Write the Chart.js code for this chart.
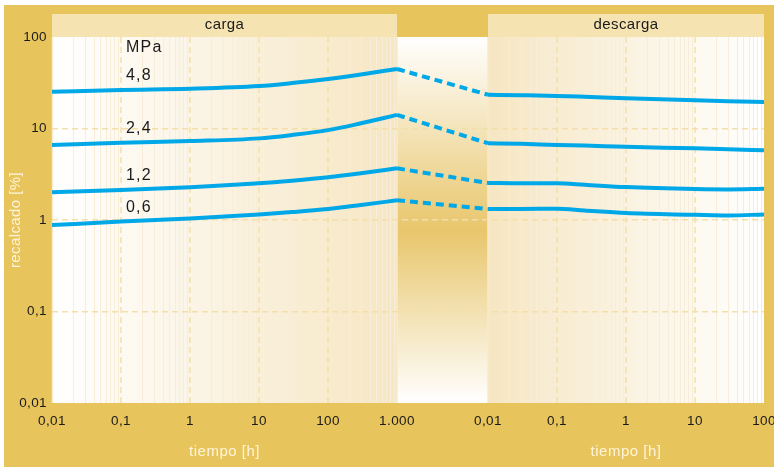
<!DOCTYPE html>
<html lang="es">
<head>
<meta charset="utf-8">
<title>recalcado</title>
<script src="https://cdn.jsdelivr.net/npm/chart.js@4.4.1/dist/chart.umd.min.js"></script>
<style>
  html,body{margin:0;padding:0;background:#fff;}
  canvas{display:block;}
</style>
</head>
<body>
<canvas id="c" width="774" height="467"></canvas>
<script>
/* ---- datos ---- */
const tCarga    = [0.01, 0.1, 1, 10, 30, 100, 300, 1000];     // tiempo [h], carga
const tDescarga = [0.01, 0.03, 0.1, 0.25, 1, 10, 30, 100];    // tiempo [h], descarga

const presiones = ['4,8', '2,4', '1,2', '0,6'];               // MPa

const carga48 = [25.2, 26.4, 27.2, 29.1, 31.4, 34.8, 39.0, 44.7];
const carga24 = [6.6, 7.0, 7.3, 7.8, 8.5, 9.6, 11.4, 14.1];
const carga12 = [2.01, 2.13, 2.28, 2.52, 2.69, 2.93, 3.24, 3.67];
const carga06 = [0.88, 0.96, 1.04, 1.15, 1.22, 1.32, 1.46, 1.64];

const desc48 = [23.4, 23.1, 22.7, 22.2, 21.4, 20.3, 19.9, 19.5];
const desc24 = [6.9, 6.8, 6.6, 6.5, 6.3, 6.08, 5.95, 5.78];
const desc12 = [2.54, 2.52, 2.52, 2.43, 2.29, 2.18, 2.16, 2.19];
const desc06 = [1.32, 1.32, 1.33, 1.27, 1.19, 1.14, 1.12, 1.15];

const ticksCarga    = [0.01, 0.1, 1, 10, 100, 1000];
const lblCarga      = ['0,01', '0,1', '1', '10', '100', '1.000'];
const ticksDescarga = [0.01, 0.1, 1, 10, 100];
const lblDescarga   = ['0,01', '0,1', '1', '10', '100'];
const ticksY        = [0.01, 0.1, 1, 10, 100];
const lblY          = ['0,01', '0,1', '1', '10', '100'];

/* ---- eje x: dos paneles logarítmicos con hueco entre ellos ---- */
const GAP   = 91/69;                 // hueco en décadas
const OFF_D = 5 + GAP;
const xC = t => Math.log10(t) + 2;
const xD = t => Math.log10(t) + 2 + OFF_D;
const X_MAX = xD(100);

const GOLD = '#E7C45C', HEAD = '#F6E3B2', GRID = '#F4DFAA', MINOR = '#F7EDD8';
const AZUL = '#00A8E8', CLARO = '#FFF4DA';
const FONT = '"Liberation Sans", Arial, sans-serif';

const linea = {borderColor:AZUL, borderWidth:4, pointRadius:0, fill:false,
               cubicInterpolationMode:'monotone', borderCapStyle:'butt', borderJoinStyle:'round'};

const series = [[carga48,desc48],[carga24,desc24],[carga12,desc12],[carga06,desc06]];
const datasets = [];
series.forEach(([c,d],k)=>{
  datasets.push({...linea, label:presiones[k]+' carga',
    data:tCarga.map((t,i)=>({x:xC(t), y:c[i]}))});
  datasets.push({...linea, label:presiones[k]+' descarga',
    data:tDescarga.map((t,i)=>({x:xD(t), y:d[i]}))});
  datasets.push({...linea, label:presiones[k]+' transición', borderDash:[8,5], cubicInterpolationMode:'default', tension:0,
    data:[{x:xC(tCarga.at(-1)), y:c.at(-1)}, {x:xD(tDescarga[0]), y:d[0]}]});
});

const xTicks  = [...ticksCarga.map(xC), ...ticksDescarga.map(xD)];
const xLabels = [...lblCarga, ...lblDescarga];

/* ---- fondo, cabeceras y rejilla vertical ---- */
const fondo = {
  id:'fondo',
  beforeDraw(chart){
    const {ctx, chartArea:a, scales:{x}} = chart;
    const W = chart.width, H = chart.height;
    const xl = x.getPixelForValue(xC(1000)), xr = x.getPixelForValue(xD(0.01));
    ctx.save();
    ctx.fillStyle = '#fff'; ctx.fillRect(0,0,W,H);
    ctx.fillStyle = GOLD;   ctx.fillRect(4,5,W-4,H-5);

    let g = ctx.createLinearGradient(a.left,0,xl,0);
    g.addColorStop(0,'#FFFFFF'); g.addColorStop(1,'#F6E6C2');
    ctx.fillStyle = g; ctx.fillRect(a.left,a.top,xl-a.left,a.bottom-a.top);

    g = ctx.createLinearGradient(xr,0,a.right,0);
    g.addColorStop(0,'#F6E6C2'); g.addColorStop(1,'#FFFFFF');
    ctx.fillStyle = g; ctx.fillRect(xr,a.top,a.right-xr,a.bottom-a.top);

    g = ctx.createLinearGradient(0,a.top,0,a.bottom);
    g.addColorStop(0,'#FFFFFF'); g.addColorStop(0.53,'#E8C66C'); g.addColorStop(1,'#FFFFFF');
    ctx.fillStyle = g; ctx.fillRect(xl,a.top,xr-xl,a.bottom-a.top);

    /* bordes claros de los paneles */
    ctx.strokeStyle = '#F8EBCB'; ctx.lineWidth = 1.5;
    [a.left+0.5, xl, xr].forEach(px=>{ ctx.beginPath(); ctx.moveTo(px,a.top); ctx.lineTo(px,a.bottom); ctx.stroke(); });

    /* cabeceras */
    ctx.fillStyle = HEAD;
    ctx.fillRect(a.left,14,xl-a.left,a.top-14);
    ctx.fillRect(xr,14,a.right-xr,a.top-14);
    ctx.fillStyle = '#1a1a1a'; ctx.font = '15px '+FONT; ctx.letterSpacing = '0.4px';
    ctx.textAlign = 'center'; ctx.textBaseline = 'middle';
    ctx.fillText('carga',(a.left+xl)/2,25);
    ctx.fillText('descarga',(xr+a.right)/2,25);

    /* rejilla vertical: menores continuas, décadas discontinuas */
    const vline = px => { ctx.beginPath(); ctx.moveTo(px,a.top); ctx.lineTo(px,a.bottom); ctx.stroke(); };
    const panel = (t0,n,f) => {
      ctx.strokeStyle = MINOR; ctx.lineWidth = 1; ctx.setLineDash([]);
      for(let d=0; d<n; d++) for(let k=2; k<10; k++) vline(Math.round(x.getPixelForValue(f(t0*Math.pow(10,d)*k)))+0.5);
      ctx.strokeStyle = GRID; ctx.lineWidth = 1.5; ctx.setLineDash([6,4]);
      for(let d=1; d<n; d++) vline(x.getPixelForValue(f(t0*Math.pow(10,d))));
    };
    panel(0.01,5,xC);
    panel(0.01,4,xD);
    ctx.restore();
    ctx.letterSpacing = '0.4px';       // etiquetas de ejes algo espaciadas
  },
  afterDraw(chart){
    const {ctx, chartArea:a, scales:{x,y}} = chart;
    const xl = x.getPixelForValue(xC(1000)), xr = x.getPixelForValue(xD(0.01));
    ctx.save();
    ctx.fillStyle = '#1a1a1a'; ctx.font = '16px '+FONT; ctx.letterSpacing = '1.2px';
    ctx.textAlign = 'left'; ctx.textBaseline = 'middle';
    const lx = x.getPixelForValue(xC(0.1)) + 5;
    let top = 0;
    series.forEach(([c],k)=>{
      const py = y.getPixelForValue(c[1]) - 14;
      if(k===0) top = py;
      ctx.fillText(presiones[k],lx,py);
    });
    ctx.fillText('MPa',lx,top-28);

    ctx.fillStyle = CLARO; ctx.font = '15px '+FONT; ctx.letterSpacing = '0.5px'; ctx.textAlign = 'center';
    ctx.fillText('tiempo [h]',(a.left+xl)/2,452);
    ctx.fillText('tiempo [h]',(xr+a.right)/2,452);

    ctx.letterSpacing = '0.4px';
    ctx.translate(16,(a.top+a.bottom)/2); ctx.rotate(-Math.PI/2);
    ctx.fillText('recalcado [%]',0,0);
    ctx.restore();
    ctx.letterSpacing = '0px';
  }
};

new Chart(document.getElementById('c'),{
  type:'line',
  data:{datasets},
  options:{
    responsive:false, animation:false, devicePixelRatio:1,
    layout:{padding:{left:0, top:37, right:10, bottom:0}},
    plugins:{legend:{display:false}, tooltip:{enabled:false}},
    scales:{
      x:{
        type:'linear', min:0, max:X_MAX,
        afterBuildTicks: s => { s.ticks = xTicks.map(v=>({value:v})); },
        afterFit: s => { s.height = 64; s.paddingLeft = 0; s.paddingRight = 0; },
        ticks:{callback:(v,i)=>xLabels[i], autoSkip:false, maxRotation:0, padding:10,
               color:'#1a1a1a', font:{size:13.5, family:FONT}},
        grid:{display:false, drawTicks:false},
        border:{display:false}
      },
      y:{
        type:'logarithmic', min:0.01, max:100,
        afterBuildTicks: s => { s.ticks = ticksY.map(v=>({value:v})); },
        afterFit: s => { s.width = 52; s.paddingTop = 0; s.paddingBottom = 0; },
        ticks:{callback:(v,i)=>lblY[i], padding:5, color:'#1a1a1a', font:{size:13.5, family:FONT}},
        grid:{color: c => (c.tick && (c.tick.value===0.01 || c.tick.value===100)) ? 'rgba(0,0,0,0)' : GRID,
              lineWidth:1.5, drawTicks:false},
        border:{display:false, dash:[6,4]}
      }
    }
  },
  plugins:[fondo]
});
</script>
</body>
</html>
